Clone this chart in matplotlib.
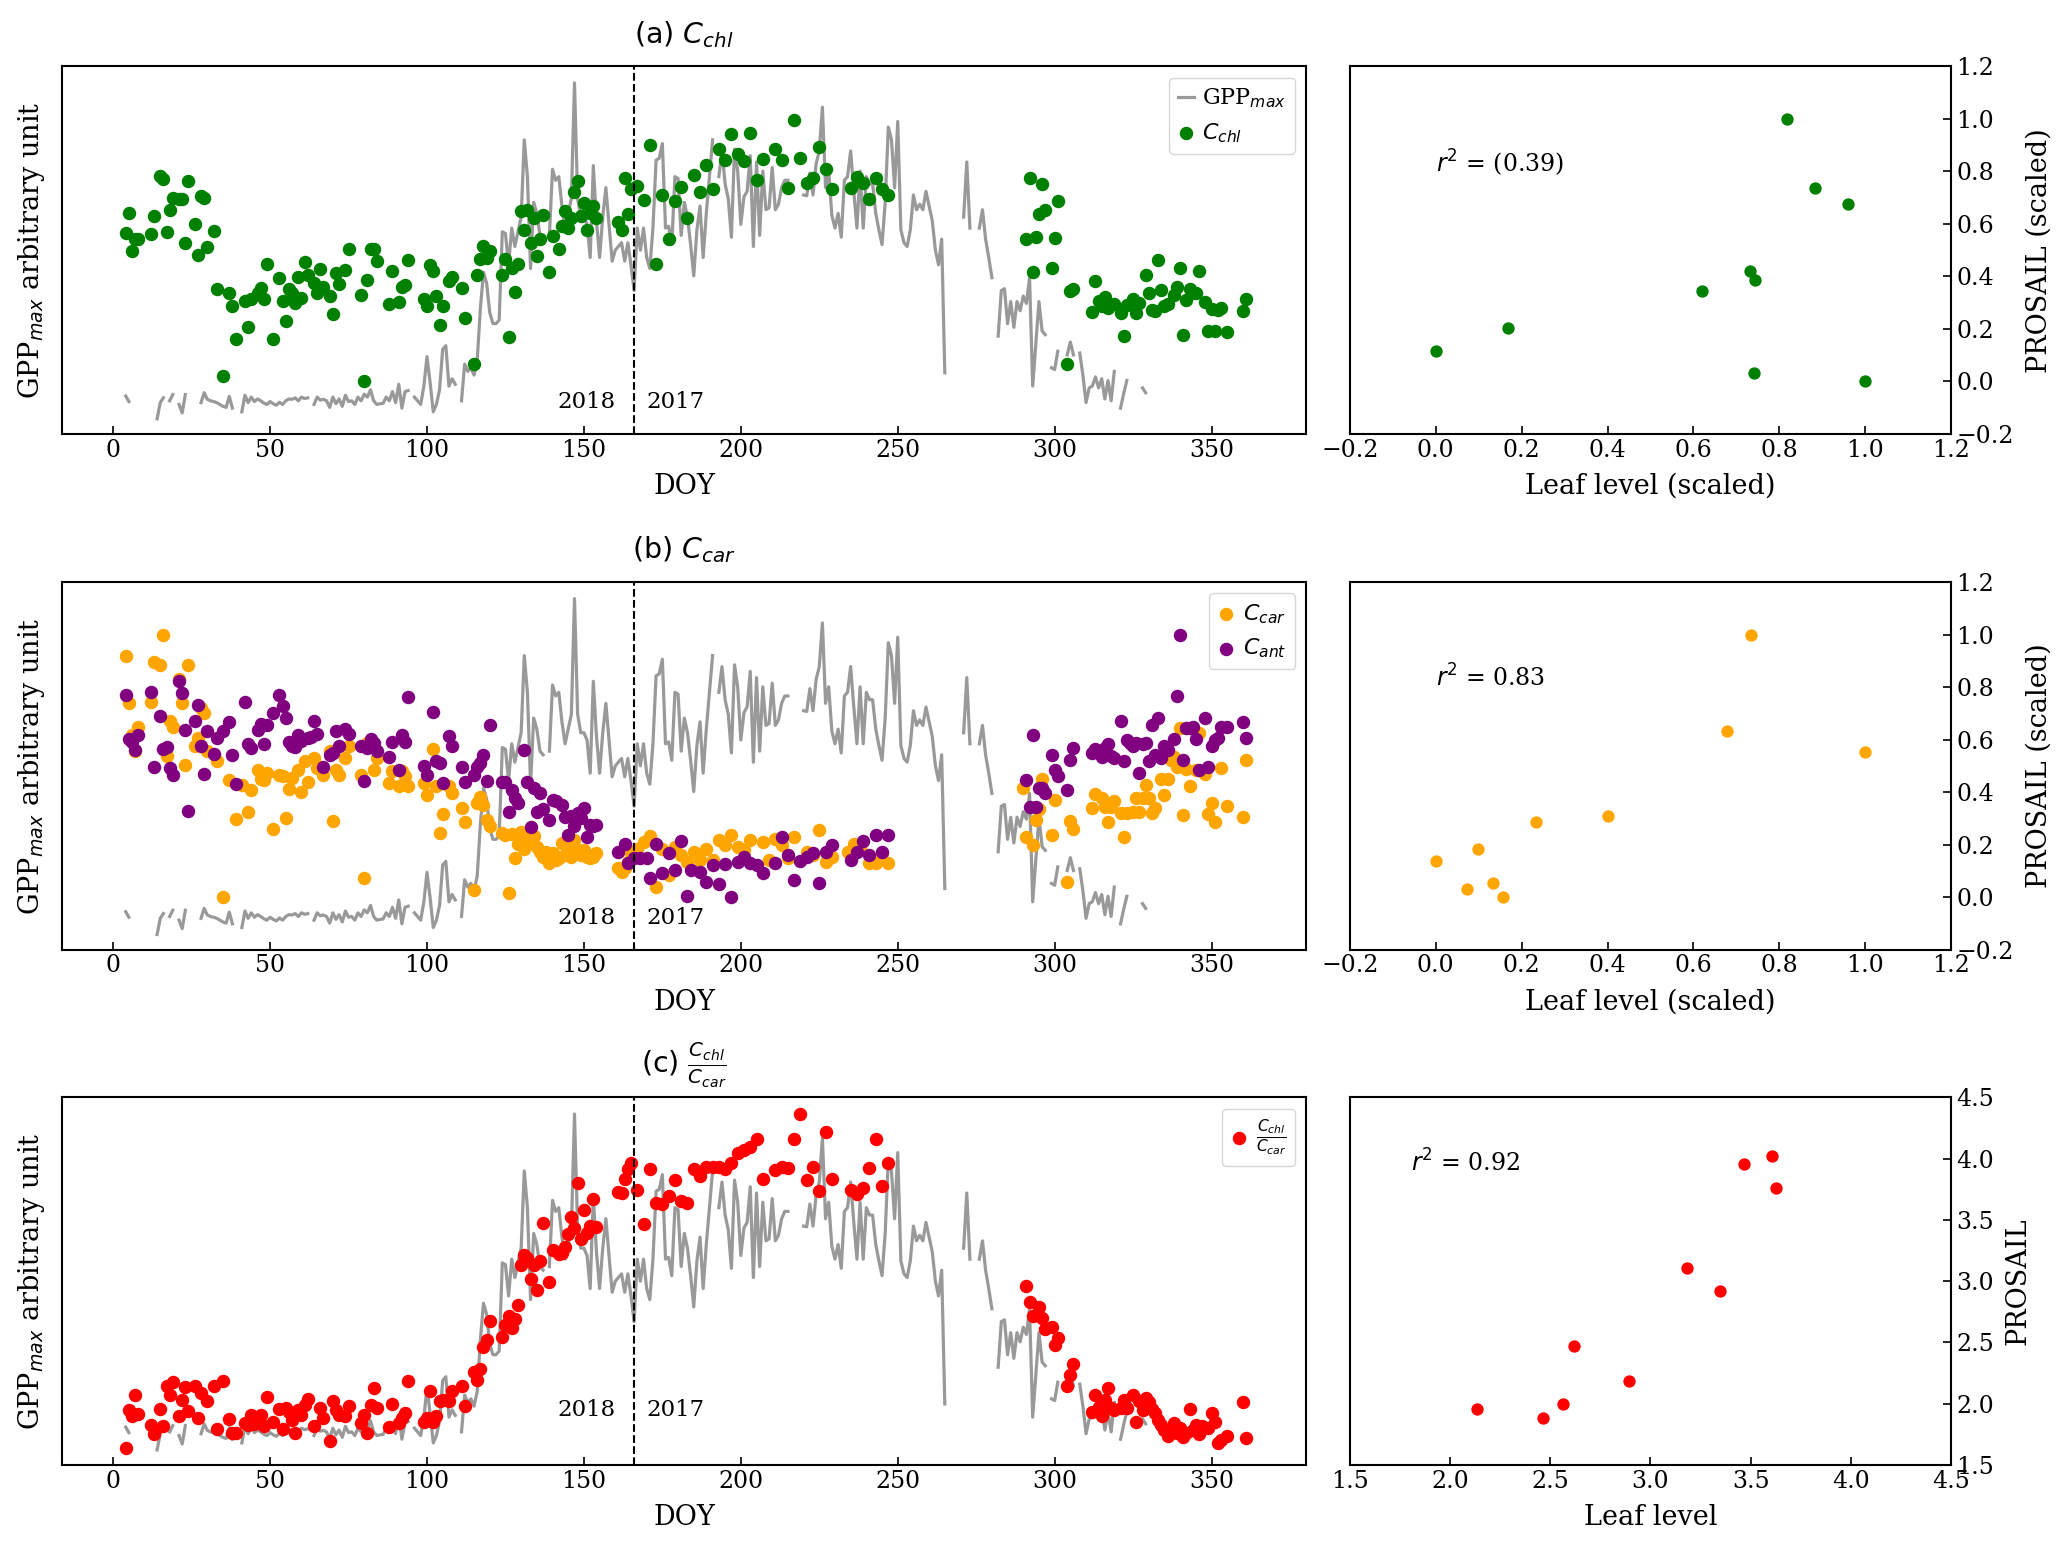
import numpy as np
import matplotlib
matplotlib.use('Agg')
import matplotlib.pyplot as plt

plt.rcParams['font.family'] = 'serif'
plt.rcParams['font.serif'] = ['DejaVu Serif']
plt.rcParams['mathtext.fontset'] = 'dejavusans'

nan = np.nan

# GPP_max (arbitrary unit, same curve in all three rows), one value per DOY from 4 to 329
gpp_doy = np.arange(4, 330)
gpp = [
    .103, .088, nan, nan, nan, nan, nan, nan, nan, nan,
    .041, .085, .098, nan, .090, .107, nan, .080, .057, .107,
    nan, nan, nan, nan, .085, .112, .094, .090, .088, .085,
    .080, .075, .072, .102, .070, nan, nan, .060, .105, .085,
    .100, .088, .095, .090, .084, .080, .088, .082, .078, .086,
    .080, .090, .095, .094, .098, .090, .100, .096, .098, nan,
    .080, .100, .092, .094, .090, .072, .100, .082, .095, .075,
    .105, .088, .090, .080, .100, .090, .108, .100, .120, .090,
    .080, .082, .083, .100, .090, .115, .085, .135, .070, .115,
    .118, nan, .100, .090, .080, .130, .210, .140, .060, .080,
    .120, .230, .240, .130, .150, .135, nan, .090, .190, .170,
    .180, .160, .200, .340, .440, .410, .330, .300, .300, .310,
    .550, .545, .460, .560, .510, .550, .590, .800, .700, .450,
    .630, .600, .540, .530, nan, .540, .720, .690, .700, .620,
    .560, .600, .640, .955, .640, .590, .590, .570, .480, .730,
    .580, .480, .590, .670, .570, .470, .500, .510, .520, .470,
    .520, .460, .390, .560, .500, .560, .480, .450, .560, .745,
    .750, .790, .560, .565, .515, .700, .695, .540, .630, .590,
    .515, .430, .555, .620, .480, .600, .700, .800, nan, .700,
    .770, .680, .640, .535, .775, .715, .570, .645, .660, .757,
    .510, .740, .540, .715, .610, .615, .725, .610, .625, .670,
    .690, .690, nan, nan, nan, nan, .650, .648, .710, .650,
    .735, .770, .889, .670, .715, .595, .560, .600, .535, .690,
    .700, .770, .660, .560, .715, .560, .700, .680, .680, .600,
    .555, .515, .630, .835, .800, .670, .850, .555, .520, .510,
    .555, .650, .610, .625, .610, .660, .620, .580, .500, .460,
    .530, .166, nan, nan, nan, nan, nan, .590, .740, .560,
    nan, nan, .560, .610, .530, .480, .425, nan, .266, .390,
    .395, .300, .360, .290, .360, .335, .375, .355, .425, .130,
    .245, .360, .280, .270, nan, .180, .175, .225, nan, nan,
    .215, .250, .215, nan, .220, .160, .085, .125, .130, .155,
    .125, .150, .095, .145, .090, .170, nan, .070, .110, .145,
    nan, nan, nan, nan, .125, .112,
]

# (a) Cchl
cchl_doy = [4, 5, 6, 7, 8, 12, 13, 15, 16, 17, 18, 19, 21, 22, 23, 24, 26, 27, 28, 29,
            30, 32, 33, 35, 37, 38, 39, 42, 43, 44, 46, 47, 48, 49, 51, 53, 54, 55, 56, 57,
            58, 59, 60, 61, 62, 64, 65, 66, 67, 69, 70, 71, 72, 74, 75, 79, 80, 81, 82, 83,
            84, 88, 89, 91, 92, 93, 94, 99, 100, 101, 102, 103, 104, 105, 107, 108, 111, 112, 115, 116,
            117, 118, 119, 120, 124, 125, 126, 127, 128, 129, 130, 131, 132, 133, 134, 135, 136, 137, 139, 140,
            142, 143, 144, 145, 146, 147, 148, 149, 150, 151, 152, 153, 154, 161, 162, 163, 164, 165, 167, 169,
            171, 173, 175, 177, 179, 181, 183, 185, 187, 189, 191, 193, 195, 197, 199, 201, 203, 205, 207, 211,
            213, 215, 217, 219, 221, 223, 225, 227, 229, 235, 237, 239, 241, 243, 245, 247, 291, 292, 293, 294,
            295, 296, 297, 299, 300, 301, 304, 305, 306, 312, 313, 314, 315, 316, 317, 319, 321, 322, 323, 325,
            326, 327, 329, 330, 331, 332, 333, 334, 335, 336, 338, 339, 340, 341, 342, 343, 344, 345, 346, 348,
            349, 350, 351, 352, 353, 355, 360, 361]
cchl = [.547, .600, .497, .529, .529, .544, .594, .701, .694, .548, .610, .643, .639, .639, .520, .687, .571, .488, .646, .643,
        .509, .551, .394, .157, .382, .347, .257, .361, .291, .367, .384, .397, .367, .462, .257, .424, .361, .308, .394, .384,
        .356, .426, .370, .469, .433, .411, .384, .449, .400, .374, .326, .438, .408, .445, .503, .377, .143, .418, .503, .503,
        .471, .354, .442, .358, .400, .406, .474, .368, .347, .459, .442, .374, .297, .347, .415, .426, .397, .316, .189, .431,
        .476, .512, .479, .497, .433, .476, .263, .451, .386, .463, .607, .554, .608, .520, .587, .483, .530, .595, .441, .538,
        .504, .565, .606, .560, .587, .657, .689, .592, .628, .556, .601, .619, .587, .576, .556, .696, .597, .665, .675, .637,
        .787, .461, .651, .529, .635, .672, .587, .705, .657, .731, .667, .775, .746, .817, .762, .742, .819, .690, .748, .775,
        .744, .669, .855, .751, .684, .696, .782, .721, .665, .669, .699, .683, .639, .696, .666, .651, .531, .696, .440, .535,
        .597, .680, .610, .451, .532, .635, .191, .390, .393, .332, .415, .361, .347, .372, .343, .354, .329, .267, .352, .367,
        .329, .356, .431, .384, .338, .334, .474, .391, .347, .354, .379, .400, .451, .270, .365, .393, .384, .382, .442, .359,
        .279, .340, .279, .336, .343, .277, .334, .367]

# (b) Ccar and Cant
ccar_doy = [4, 5, 6, 7, 8, 12, 13, 15, 16, 17, 18, 19, 21, 22, 23, 24, 26, 27, 28, 29,
            30, 33, 35, 37, 39, 41, 43, 44, 46, 47, 48, 49, 51, 53, 54, 55, 56, 57, 59, 60,
            61, 62, 64, 65, 66, 67, 69, 70, 71, 72, 74, 75, 79, 80, 81, 83, 84, 88, 89, 91,
            92, 93, 94, 99, 100, 102, 103, 104, 105, 107, 108, 111, 112, 115, 116, 117, 118, 119, 120, 124,
            125, 126, 127, 128, 129, 130, 131, 132, 133, 134, 135, 136, 137, 138, 139, 140, 141, 142, 143, 144,
            145, 146, 147, 148, 149, 150, 151, 152, 153, 154, 161, 162, 163, 164, 165, 167, 169, 171, 173, 175,
            177, 179, 181, 183, 185, 187, 189, 191, 193, 195, 197, 199, 201, 203, 207, 209, 211, 213, 215, 217,
            221, 223, 225, 227, 229, 234, 236, 238, 241, 243, 245, 247, 290, 291, 293, 294, 295, 296, 299, 300,
            304, 305, 306, 312, 313, 315, 316, 317, 318, 319, 321, 322, 323, 325, 326, 327, 328, 329, 330, 331,
            332, 334, 335, 336, 337, 338, 339, 340, 341, 342, 343, 345, 346, 348, 349, 350, 351, 353, 355, 360,
            361]
ccar = [.800, .671, .585, .539, .607, .673, .782, .775, .857, .527, .621, .607, .736, .671, .502, .774, .555, .575, .657, .644,
        .539, .512, .142, .462, .355, .448, .375, .435, .489, .464, .462, .480, .327, .475, .471, .357, .436, .466, .489, .430,
        .512, .457, .521, .494, .498, .475, .539, .351, .489, .475, .521, .553, .475, .194, .562, .489, .521, .453, .485, .444,
        .485, .471, .444, .453, .421, .545, .444, .318, .369, .444, .425, .385, .348, .162, .398, .416, .394, .353, .335, .318,
        .312, .155, .315, .248, .287, .321, .275, .307, .294, .309, .280, .266, .253, .266, .236, .262, .244, .248, .289, .257,
        .275, .253, .298, .271, .257, .271, .253, .248, .253, .264, .221, .212, .221, .239, .264, .275, .294, .309, .171, .275,
        .203, .280, .257, .239, .266, .245, .275, .245, .298, .285, .312, .280, .271, .298, .294, .244, .300, .285, .248, .305,
        .266, .257, .324, .239, .253, .266, .287, .280, .235, .235, .262, .235, .439, .305, .285, .353, .382, .464, .312, .407,
        .185, .351, .327, .385, .424, .412, .389, .348, .389, .405, .371, .305, .371, .373, .412, .375, .412, .448, .412, .371,
        .385, .464, .421, .464, .516, .525, .498, .603, .366, .491, .444, .489, .589, .478, .369, .398, .348, .494, .391, .360,
        .516]
cant_doy = [4, 5, 6, 7, 8, 12, 13, 15, 16, 17, 18, 19, 21, 22, 23, 24, 26, 27, 28, 29,
            30, 32, 33, 35, 37, 38, 39, 42, 43, 44, 46, 47, 48, 49, 51, 53, 54, 55, 56, 57,
            58, 59, 60, 62, 63, 64, 65, 67, 69, 70, 71, 72, 74, 75, 79, 80, 81, 82, 83, 84,
            88, 89, 91, 92, 93, 94, 99, 100, 102, 103, 104, 105, 107, 108, 111, 112, 115, 116, 117, 118,
            119, 120, 124, 125, 126, 127, 128, 129, 131, 132, 133, 134, 135, 136, 137, 139, 140, 141, 143, 144,
            145, 146, 147, 148, 149, 150, 151, 152, 153, 154, 161, 163, 164, 166, 168, 170, 171, 173, 175, 177,
            179, 181, 183, 184, 187, 189, 191, 193, 195, 197, 199, 201, 203, 205, 207, 211, 213, 215, 217, 219,
            221, 223, 225, 227, 229, 235, 237, 239, 241, 243, 245, 247, 291, 292, 293, 294, 295, 296, 297, 299,
            300, 301, 304, 305, 306, 312, 313, 314, 315, 316, 317, 318, 319, 321, 322, 323, 324, 325, 326, 327,
            328, 329, 330, 331, 332, 333, 334, 335, 336, 338, 339, 340, 341, 342, 343, 344, 345, 346, 348, 349,
            350, 351, 352, 353, 355, 360, 361]
cant = [.694, .573, .566, .542, .585, .701, .496, .635, .545, .551, .494, .475, .730, .698, .598, .377, .621, .665, .553, .478,
        .596, .532, .575, .596, .618, .530, .451, .673, .560, .548, .598, .614, .560, .612, .644, .694, .664, .630, .566, .553,
        .551, .585, .568, .575, .578, .621, .587, .498, .530, .535, .596, .555, .600, .587, .553, .460, .548, .573, .562, .539,
        .525, .566, .489, .585, .566, .686, .500, .475, .646, .512, .507, .453, .580, .553, .496, .457, .475, .498, .509, .530,
        .460, .610, .457, .457, .373, .433, .412, .400, .542, .457, .333, .439, .375, .425, .382, .353, .407, .403, .394, .362,
        .312, .364, .335, .371, .357, .385, .307, .339, .336, .339, .266, .287, .235, .248, .248, .248, .194, .286, .207, .262,
        .216, .295, .145, .216, .212, .185, .230, .178, .233, .142, .239, .253, .235, .230, .207, .236, .305, .257, .189, .242,
        .253, .262, .180, .266, .285, .244, .266, .296, .257, .312, .266, .312, .462, .387, .585, .387, .439, .439, .425, .530,
        .489, .471, .435, .516, .548, .536, .545, .535, .525, .548, .560, .527, .521, .621, .512, .571, .562, .553, .562, .480,
        .560, .562, .512, .612, .530, .630, .521, .553, .544, .573, .689, .857, .516, .603, .603, .605, .573, .489, .630, .498,
        .553, .571, .575, .605, .605, .618, .575]

# (c) Cchl / Ccar
ratio_doy = [4, 5, 6, 7, 8, 12, 13, 15, 16, 17, 18, 19, 21, 22, 23, 24, 26, 27, 28, 30,
             32, 33, 35, 37, 38, 39, 42, 43, 44, 45, 46, 47, 48, 49, 51, 53, 54, 55, 56, 57,
             58, 59, 60, 61, 62, 64, 66, 67, 69, 70, 71, 72, 74, 75, 79, 80, 81, 82, 83, 84,
             88, 89, 91, 92, 93, 94, 99, 100, 101, 102, 103, 104, 105, 107, 108, 111, 112, 115, 116, 117,
             118, 119, 120, 124, 125, 126, 127, 128, 129, 130, 131, 132, 133, 134, 135, 136, 137, 139, 140, 142,
             143, 144, 145, 146, 147, 148, 149, 150, 151, 152, 153, 154, 161, 162, 163, 164, 165, 167, 169, 171,
             173, 175, 177, 179, 181, 183, 185, 187, 189, 191, 193, 195, 197, 199, 201, 203, 205, 207, 211, 213,
             215, 217, 219, 221, 223, 225, 227, 229, 235, 237, 239, 241, 243, 245, 247, 291, 292, 293, 295, 296,
             297, 299, 300, 301, 304, 305, 306, 312, 313, 314, 315, 316, 317, 318, 319, 321, 322, 323, 325, 326,
             327, 328, 329, 330, 331, 332, 333, 334, 335, 336, 337, 338, 339, 340, 341, 342, 343, 344, 345, 346,
             347, 349, 350, 351, 352, 353, 355, 360, 361]
ratio = [.045, .150, .134, .191, .138, .109, .085, .152, .106, .215, .191, .225, .134, .177, .212, .148, .214, .129, .197, .173,
         .215, .098, .229, .125, .088, .088, .114, .109, .136, .112, .125, .136, .106, .186, .118, .152, .097, .155, .145, .123,
         .088, .150, .136, .164, .179, .105, .155, .127, .064, .173, .150, .136, .132, .161, .114, .136, .086, .164, .209, .155,
         .102, .165, .115, .127, .141, .229, .118, .127, .200, .118, .134, .173, .177, .173, .200, .214, .161, .252, .232, .261,
         .320, .341, .393, .348, .382, .405, .373, .397, .434, .545, .570, .564, .506, .545, .477, .555, .659, .497, .586, .575,
         .577, .594, .629, .675, .645, .766, .614, .695, .632, .650, .725, .647, .743, .739, .779, .805, .823, .748, .655, .805,
         .712, .709, .732, .775, .718, .712, .805, .786, .812, .812, .812, .806, .821, .850, .857, .864, .888, .779, .803, .812,
         .807, .886, .955, .775, .812, .745, .905, .779, .748, .736, .755, .809, .888, .759, .823, .486, .443, .405, .430, .400,
         .370, .375, .327, .345, .215, .245, .275, .145, .191, .157, .134, .177, .209, .155, .150, .155, .177, .155, .191, .118,
         .173, .150, .182, .170, .152, .141, .123, .109, .094, .079, .095, .114, .086, .100, .077, .086, .152, .095, .109, .085,
         .105, .100, .141, .118, .061, .068, .079, .170, .073]

# right column: leaf level vs PROSAIL
leaf_chl = [0.0, 0.169, 0.621, 0.732, 0.743, 0.741, 0.818, 0.882, 0.960, 1.0]
prosail_chl = [0.114, 0.203, 0.343, 0.422, 0.388, 0.032, 1.0, 0.736, 0.674, 0.0]
leaf_car = [0.0, 0.073, 0.098, 0.134, 0.156, 0.233, 0.401, 0.678, 0.734, 1.0]
prosail_car = [0.139, 0.032, 0.185, 0.054, 0.0, 0.285, 0.308, 0.633, 1.0, 0.554]
leaf_ratio = [2.133, 2.463, 2.563, 2.620, 2.894, 3.182, 3.346, 3.468, 3.605, 3.624]
prosail_ratio = [1.955, 1.887, 1.996, 2.468, 2.182, 3.109, 2.918, 3.960, 4.023, 3.758]

r2_text = ['$r^2$ = (0.39)', '$r^2$ = 0.83', '$r^2$ = 0.92']
titles = ['(a) $C_{chl}$', '(b) $C_{car}$', r'(c) $\frac{C_{chl}}{C_{car}}$']

gpp_color = '#999999'
bottoms = [0.719, 0.385, 0.0512]
height = 0.238

fig = plt.figure(figsize=(20.67, 15.44), dpi=100)

left_axes = []
right_axes = []
for b in bottoms:
    axl = fig.add_axes([0.030, b, 0.602, height])
    axr = fig.add_axes([0.653, b, 0.291, height])
    left_axes.append(axl)
    right_axes.append(axr)

for i, ax in enumerate(left_axes):
    gline, = ax.plot(gpp_doy, gpp, color=gpp_color, lw=2.3, label='GPP$_{max}$')
    if i == 0:
        s1 = ax.scatter(cchl_doy, cchl, s=75, color='green', label='$C_{chl}$', zorder=3)
        ax.legend(handles=[gline, s1], loc='upper right', fontsize=16,
                  handlelength=0.7, handletextpad=0.4)
    elif i == 1:
        s1 = ax.scatter(ccar_doy, ccar, s=75, color='orange', label='$C_{car}$', zorder=3)
        s2 = ax.scatter(cant_doy, cant, s=75, color='purple', label='$C_{ant}$', zorder=3)
        ax.legend(handles=[s1, s2], loc='upper right', fontsize=16,
                  handlelength=0.7, handletextpad=0.4)
    else:
        s1 = ax.scatter(ratio_doy, ratio, s=75, color='red',
                        label=r'$\frac{C_{chl}}{C_{car}}$', zorder=3)
        ax.legend(handles=[s1], loc='upper right', fontsize=16,
                  handlelength=0.7, handletextpad=0.4)

    ax.axvline(166, color='k', ls='--', lw=1.5, zorder=4)
    ty = 0.07 if i < 2 else 0.134
    ax.text(160, ty, '2018', ha='right', va='baseline', fontsize=16.5)
    ax.text(170, ty, '2017', ha='left', va='baseline', fontsize=16.5)

    ax.set_xlim(-16.3, 380.2)
    ax.set_ylim(0, 1)
    ax.set_xticks(np.arange(0, 351, 50))
    ax.set_yticks([])
    ax.tick_params(axis='x', direction='in', length=6, width=1.2, labelsize=17)
    ax.set_xlabel('DOY', fontsize=19.5, labelpad=8)
    ax.set_ylabel('GPP$_{max}$ arbitrary unit', fontsize=19.5, labelpad=11)
    ax.set_title(titles[i], fontfamily='DejaVu Sans', fontsize=20.5, pad=17)
    for sp in ax.spines.values():
        sp.set_linewidth(1.5)

right_data = [(leaf_chl, prosail_chl, 'green'),
              (leaf_car, prosail_car, 'orange'),
              (leaf_ratio, prosail_ratio, 'red')]

for i, ax in enumerate(right_axes):
    x, y, c = right_data[i]
    ax.scatter(x, y, s=62, color=c)
    if i < 2:
        ax.set_xlim(-0.2, 1.2)
        ax.set_ylim(-0.2, 1.2)
        ticks = np.arange(-0.2, 1.21, 0.2)
        ax.set_xticks(ticks)
        ax.set_yticks(ticks)
        ax.text(0.0, 0.835, r2_text[i], fontsize=17, va='center')
        ax.set_xlabel('Leaf level (scaled)', fontsize=19.5, labelpad=8)
        ax.set_ylabel('PROSAIL (scaled)', fontsize=19.5, labelpad=9)
    else:
        ax.set_xlim(1.5, 4.5)
        ax.set_ylim(1.5, 4.5)
        ticks = np.arange(1.5, 4.51, 0.5)
        ax.set_xticks(ticks)
        ax.set_yticks(ticks)
        ax.text(1.806, 3.968, r2_text[i], fontsize=17, va='center')
        ax.set_xlabel('Leaf level', fontsize=19.5, labelpad=8)
        ax.set_ylabel('PROSAIL', fontsize=19.5, labelpad=8)
    ax.yaxis.tick_right()
    ax.yaxis.set_label_position('right')
    ax.tick_params(direction='in', length=6, width=1.2, labelsize=17)
    for sp in ax.spines.values():
        sp.set_linewidth(1.5)

fig.savefig('out.png', dpi=100)
